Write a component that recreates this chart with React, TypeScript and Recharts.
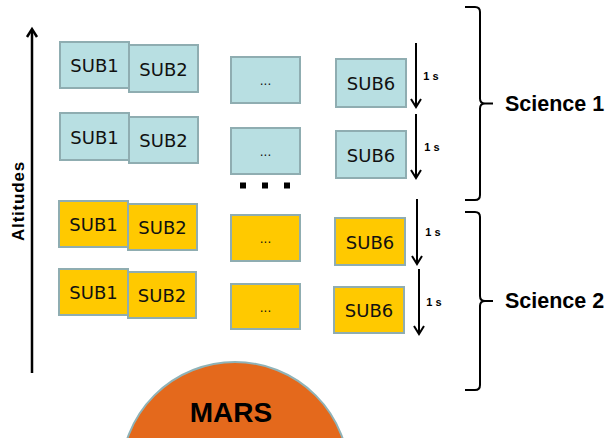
import React from 'react';
import {
  ScatterChart,
  Scatter,
  XAxis,
  YAxis,
  ReferenceArea,
  ReferenceLine,
  ReferenceDot,
} from 'recharts';

// Diagram coordinate system: x 0–614 across, y 0–438 downward (reversed axis)
const science1Boxes = [
  { label: 'SUB1', x1: 60, x2: 129, y1: 42, y2: 88 },
  { label: 'SUB2', x1: 129, x2: 198, y1: 45, y2: 92 },
  { label: '...', x1: 231, x2: 300, y1: 57, y2: 103 },
  { label: 'SUB6', x1: 336, x2: 406, y1: 59, y2: 107 },
  { label: 'SUB1', x1: 60, x2: 129, y1: 113, y2: 160 },
  { label: 'SUB2', x1: 129, x2: 198, y1: 117, y2: 163 },
  { label: '...', x1: 231, x2: 300, y1: 128, y2: 174 },
  { label: 'SUB6', x1: 336, x2: 406, y1: 131, y2: 178 },
];

const science2Boxes = [
  { label: 'SUB1', x1: 59, x2: 128, y1: 201, y2: 247 },
  { label: 'SUB2', x1: 128, x2: 197, y1: 204, y2: 250 },
  { label: '...', x1: 231, x2: 300, y1: 215, y2: 261 },
  { label: 'SUB6', x1: 335, x2: 405, y1: 218, y2: 265 },
  { label: 'SUB1', x1: 59, x2: 128, y1: 269, y2: 315 },
  { label: 'SUB2', x1: 128, x2: 196, y1: 272, y2: 318 },
  { label: '...', x1: 231, x2: 300, y1: 284, y2: 329 },
  { label: 'SUB6', x1: 334, x2: 404, y1: 287, y2: 333 },
];

const stepArrows = [
  { x: 416, yFrom: 43, yTo: 107 },
  { x: 416, yFrom: 114, yTo: 178 },
  { x: 417, yFrom: 199, yTo: 264 },
  { x: 419, yFrom: 269, yTo: 334 },
];

const stepLabels = [
  { x: 431, y: 76, text: '1 s' },
  { x: 432, y: 147, text: '1 s' },
  { x: 433, y: 232, text: '1 s' },
  { x: 434, y: 302, text: '1 s' },
];

const altitudeArrow = [{ x: 32, yFrom: 373, yTo: 29 }];
const altitudeLabel = [{ x: 18, y: 201, text: 'Altitudes' }];

const braces = [
  { x: 480, yTop: 7, yBottom: 200 },
  { x: 480, yTop: 212, yBottom: 390 },
];
const braceLabels = [
  { x: 505, y: 104, text: 'Science 1' },
  { x: 505, y: 301, text: 'Science 2' },
];

const gapMarks = [
  { x: 243, y: 185.5 },
  { x: 265, y: 185.5 },
  { x: 287, y: 185.5 },
];

const marsCenter = { x: 235, y: 476 };
const marsLabel = [{ x: 231, y: 412, text: 'MARS' }];

const BLUE_FILL = '#B8DFE2';
const YELLOW_FILL = '#FFC900';
const BOX_STROKE = '#8FADB1';
const MARS_FILL = '#E4691C';
const MARS_STROKE = '#8FB3B8';

const arrowShape = (props: any) => {
  const { x1, y1, x2, y2 } = props;
  const dy = y2 > y1 ? 1 : -1;
  const w = 5;
  const h = 8;
  return (
    <g>
      <line x1={x1} y1={y1} x2={x2} y2={y2} stroke="#000" strokeWidth={2} />
      <polyline
        points={`${x2 - w},${y2 - dy * h} ${x2},${y2} ${x2 + w},${y2 - dy * h}`}
        fill="none"
        stroke="#000"
        strokeWidth={2}
      />
    </g>
  );
};

const axisArrowShape = (props: any) => {
  const { x1, y1, x2, y2 } = props;
  return (
    <g>
      <line x1={x1} y1={y1} x2={x2} y2={y2 + 1} stroke="#000" strokeWidth={2.5} />
      <polyline
        points={`${x2 - 5},${y2 + 8} ${x2},${y2} ${x2 + 5},${y2 + 8}`}
        fill="none"
        stroke="#000"
        strokeWidth={2.5}
      />
    </g>
  );
};

const braceShape = (props: any) => {
  const { x1, y1, y2 } = props;
  const top = Math.min(y1, y2);
  const bot = Math.max(y1, y2);
  const mid = (top + bot) / 2;
  const left = x1 - 15;
  const tip = x1 + 13;
  const r = 5;
  const d = [
    `M ${left} ${top}`,
    `L ${x1 - r} ${top}`,
    `Q ${x1} ${top} ${x1} ${top + r}`,
    `L ${x1} ${mid - r}`,
    `Q ${x1} ${mid} ${x1 + r} ${mid}`,
    `L ${tip} ${mid}`,
    `M ${x1 + r} ${mid}`,
    `Q ${x1} ${mid} ${x1} ${mid + r}`,
    `L ${x1} ${bot - r}`,
    `Q ${x1} ${bot} ${x1 - r} ${bot}`,
    `L ${left} ${bot}`,
  ].join(' ');
  return <path d={d} fill="none" stroke="#000" strokeWidth={2} />;
};

const makeTextShape =
  (style: any) =>
  (props: any) => {
    const { cx, cy, payload } = props;
    return (
      <text x={cx} y={cy} dominantBaseline="central" {...style}>
        {payload.text}
      </text>
    );
  };

const stepLabelShape = makeTextShape({
  textAnchor: 'middle',
  fontFamily: 'Liberation Sans, Arial, sans-serif',
  fontWeight: 'bold',
  fontSize: 11,
  fill: '#000',
});
const braceLabelShape = makeTextShape({
  textAnchor: 'start',
  fontFamily: 'Liberation Sans, Arial, sans-serif',
  fontWeight: 'bold',
  fontSize: 21.5,
  fill: '#000',
});
const marsLabelShape = makeTextShape({
  textAnchor: 'middle',
  fontFamily: 'Liberation Sans, Arial, sans-serif',
  fontWeight: 'bold',
  fontSize: 28,
  fill: '#000',
});

const altitudeLabelShape = (props: any) => {
  const { cx, cy, payload } = props;
  return (
    <text
      x={cx}
      y={cy}
      dominantBaseline="central"
      textAnchor="middle"
      transform={`rotate(-90 ${cx} ${cy})`}
      fontFamily="Liberation Sans, Arial, sans-serif"
      fontWeight="bold"
      fontSize={17}
      letterSpacing={0.8}
      fill="#000"
    >
      {payload.text}
    </text>
  );
};

const gapMarkShape = (props: any) => {
  const { cx, cy } = props;
  return <rect x={cx - 3} y={cy - 3} width={6} height={6} fill="#000" />;
};

const renderBoxes = (boxes: any[], fill: string, prefix: string) =>
  boxes.map((b, i) => (
    <ReferenceArea
      key={`${prefix}-${i}`}
      x1={b.x1}
      x2={b.x2}
      y1={b.y1}
      y2={b.y2}
      fill={fill}
      fillOpacity={1}
      stroke={BOX_STROKE}
      strokeWidth={2}
      ifOverflow="visible"
      label={{
        value: b.label,
        position: 'center',
        fill: '#111',
        dy: 1,
        fontSize: b.label === '...' ? 12 : 18,
        fontFamily: 'DejaVu Sans, Verdana, sans-serif',
      }}
    />
  ));

export default function App() {
  return (
    <div style={{ position: 'absolute', left: 0, top: 0, width: 614, height: 438, background: '#fff' }}>
      <ScatterChart width={614} height={438} margin={{ top: 0, right: 0, bottom: 0, left: 0 }}>
        <XAxis type="number" dataKey="x" domain={[0, 614]} hide allowDataOverflow />
        <YAxis type="number" dataKey="y" domain={[0, 438]} reversed hide allowDataOverflow />

        <ReferenceDot
          x={marsCenter.x}
          y={marsCenter.y}
          r={114}
          fill={MARS_FILL}
          stroke={MARS_STROKE}
          strokeWidth={2}
          ifOverflow="visible"
        />

        {altitudeArrow.map((a, i) => (
          <ReferenceLine
            key={`alt-${i}`}
            segment={[
              { x: a.x, y: a.yFrom },
              { x: a.x, y: a.yTo },
            ]}
            shape={axisArrowShape}
            ifOverflow="visible"
          />
        ))}

        {renderBoxes(science1Boxes, BLUE_FILL, 's1')}
        {renderBoxes(science2Boxes, YELLOW_FILL, 's2')}

        {stepArrows.map((a, i) => (
          <ReferenceLine
            key={`step-${i}`}
            segment={[
              { x: a.x, y: a.yFrom },
              { x: a.x, y: a.yTo },
            ]}
            shape={arrowShape}
            ifOverflow="visible"
          />
        ))}

        {braces.map((b, i) => (
          <ReferenceLine
            key={`brace-${i}`}
            segment={[
              { x: b.x, y: b.yTop },
              { x: b.x, y: b.yBottom },
            ]}
            shape={braceShape}
            ifOverflow="visible"
          />
        ))}

        <Scatter data={gapMarks} shape={gapMarkShape} isAnimationActive={false} />
        <Scatter data={stepLabels} shape={stepLabelShape} isAnimationActive={false} />
        <Scatter data={braceLabels} shape={braceLabelShape} isAnimationActive={false} />
        <Scatter data={marsLabel} shape={marsLabelShape} isAnimationActive={false} />
        <Scatter data={altitudeLabel} shape={altitudeLabelShape} isAnimationActive={false} />
      </ScatterChart>
    </div>
  );
}
